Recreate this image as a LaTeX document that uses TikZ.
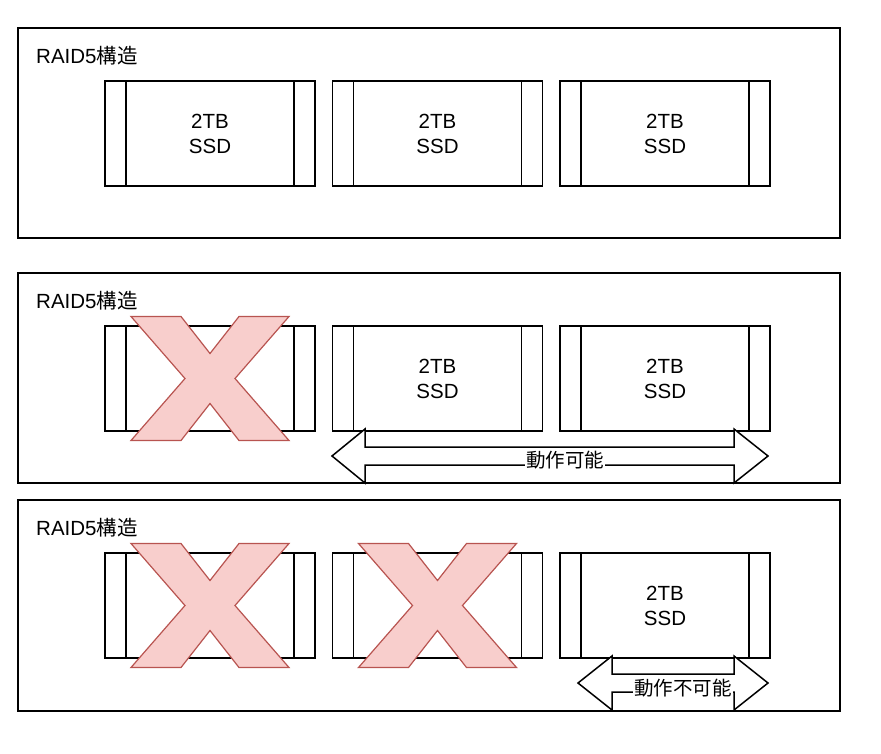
\documentclass[tikz,border=0pt]{standalone}
\usepackage{fontspec}
\setmainfont{Liberation Sans}
\newfontfamily\jpfont{Noto Sans CJK JP}
\usetikzlibrary{positioning,calc}
\definecolor{failpink}{HTML}{F8CECC}
\definecolor{failred}{HTML}{B85450}
\tikzset{
  panel/.style   = {draw, line width=1.5pt, anchor=north west, minimum width=822pt,
                    minimum height=210pt, inner sep=0pt, outer sep=0pt},
  ssd/.style     = {draw, line width=1.5pt, minimum width=210pt, minimum height=105pt,
                    inner sep=0pt, outer sep=0pt, align=center, font=\fontsize{20.5}{25}\selectfont,
                    path picture={\draw[line width=1.5pt]
                      ([xshift=21pt]path picture bounding box.north west) -- ([xshift=21pt]path picture bounding box.south west)
                      ([xshift=-21pt]path picture bounding box.north east) -- ([xshift=-21pt]path picture bounding box.south east);}},
  title/.style   = {anchor=base west, inner sep=0pt, font=\fontsize{20.5}{25}\selectfont},
  span/.style    = {draw, line width=1.5pt, fill=white, line join=miter},
  spanlbl/.style = {fill=white, inner sep=1pt, font=\fontsize{19.5}{24}\selectfont\jpfont},
  fail/.pic      = {\draw[draw=failred, fill=failpink, line width=1.2pt]
                    (-79,-62) -- (-29,-62) -- (0,-25) -- (29,-62) -- (79,-62) -- (25,0)
                    -- (79,62) -- (29,62) -- (0,25) -- (-29,62) -- (-79,62) -- (-25,0) -- cycle;},
}

\begin{document}
\begin{tikzpicture}[x=1pt, y=-1pt]
  \useasboundingbox (0,0) rectangle (881,753);
  % panels
  \node[panel] (p1) at (18,28) {};
  \node[panel] (p2) at (18,273) {};
  \node[panel, minimum height=211pt] (p3) at (18,500) {};
  \node[title] (t1) at (36,63) {RAID5{\jpfont 構造}};
  \node[title] (t2) at (36,308) {RAID5{\jpfont 構造}};
  \node[title] (t3) at (36,535) {RAID5{\jpfont 構造}};
  % drives
  \node[ssd] (b11) at (210,133.5) {2TB\\SSD};
  \node[ssd, right=17.5pt of b11] (b12) {2TB\\SSD};
  \node[ssd, right=17.5pt of b12] (b13) {2TB\\SSD};
  \node[ssd] (b21) at (210,378.5) {};
  \node[ssd, right=17.5pt of b21] (b22) {2TB\\SSD};
  \node[ssd, right=17.5pt of b22] (b23) {2TB\\SSD};
  \node[ssd] (b31) at (210,605.5) {};
  \node[ssd, right=17.5pt of b31] (b32) {};
  \node[ssd, right=17.5pt of b32] (b33) {2TB\\SSD};
  % failed drives
  \pic at (b21.center) {fail};
  \pic at (b31.center) {fail};
  \pic at (b32.center) {fail};
  % working span
  \coordinate (s2l) at (332,456);
  \coordinate (s2r) at (768,456);
  \draw[span] (s2l) -- ++(33,-27) -- ++(0,18) -- ($(s2r)+(-34,-9)$) -- ++(0,-18) -- (s2r)
    -- ++(-34,27) -- ++(0,-18) -- ($(s2l)+(33,9)$) -- ++(0,18) -- cycle;
  \node[spanlbl] (l2) at (565,460) {動作可能};
  \coordinate (s3l) at (578,683);
  \coordinate (s3r) at (768,683);
  \draw[span] (s3l) -- ++(34,-27) -- ++(0,18) -- ($(s3r)+(-34,-9)$) -- ++(0,-18) -- (s3r)
    -- ++(-34,27) -- ++(0,-18) -- ($(s3l)+(34,9)$) -- ++(0,18) -- cycle;
  \node[spanlbl] (l3) at (683,688) {動作不可能};
\end{tikzpicture}
\end{document}
